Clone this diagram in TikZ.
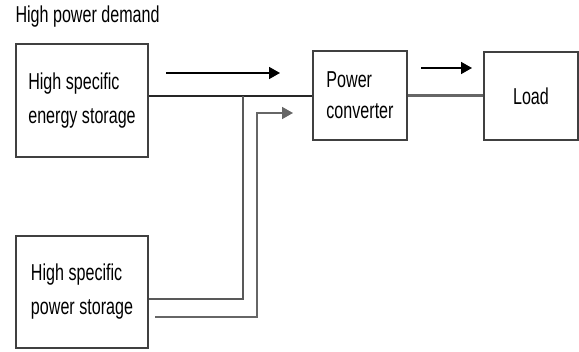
\documentclass[tikz,border=0pt]{standalone}
\usepackage{fontspec}
\setmainfont{Liberation Sans}[FakeStretch=0.7]
\usetikzlibrary{calc, positioning}
\usetikzlibrary{arrows.meta}

\tikzset{
  blockbox/.style={draw=black!75, line width=1.5pt, align=left,
    font=\fontsize{23}{34}\selectfont},
  wire/.style={black!85, line width=1.6pt},
  greywire/.style={black!60, line width=2.2pt},
  flow/.style={-{Triangle[length=11pt,width=12pt]}, line width=1.6pt}
}

\begin{document}
\begin{tikzpicture}[x=1pt, y=-1pt]
    \useasboundingbox (0,0) rectangle (579,352);
    \node[anchor=west, font=\fontsize{23}{26}\selectfont] (title) at (12,17) {High power demand};
    \node[blockbox, minimum width=132pt, minimum height=113pt] (energy) at (82,100.5) {High specific\\energy storage};
    \node[blockbox, minimum width=132pt, minimum height=112pt] (power) at (82,292) {High specific\\power storage};
    \node[blockbox, minimum width=94pt, minimum height=89pt, font=\fontsize{23}{31}\selectfont] (conv) at (360,95.5) {Power\\converter};
    \node[blockbox, minimum width=94pt, minimum height=88pt, align=center] (load) at (531,96) {Load};
    % junctions
    \coordinate (j1) at (243,96);
    \coordinate (j2) at (243,299);
    \coordinate (s0) at (155,317);
    \coordinate (s1) at (257,317);
    \coordinate (s2) at (257,113);
    \coordinate (s3) at (293,113);
    \draw[wire] (energy.east |- j1) -- (j1) -- (conv.west |- j1);
    \draw[wire, black!65] (j1) -- (j2) -- (power.east |- j2);
    \draw[greywire, flow] (s0) -- (s1) -- (s2) -- (s3);
    \draw[greywire] (conv.east) -- (conv.east -| load.west);
    % direction arrows
    \coordinate (a1) at (166,73);
    \coordinate (a2) at (280,73);
    \coordinate (b1) at (421,68);
    \coordinate (b2) at (472,68);
    \draw[flow] (a1) -- (a2);
    \draw[flow] (b1) -- (b2);
  \end{tikzpicture}
\end{document}
